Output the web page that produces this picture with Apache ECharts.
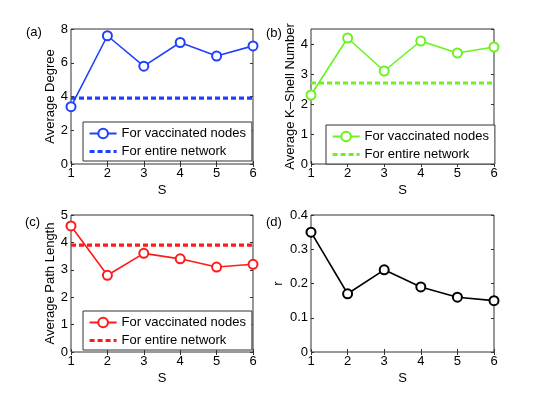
<!DOCTYPE html>
<html>
<head>
<meta charset="utf-8">
<script src="https://cdn.jsdelivr.net/npm/echarts@6/dist/echarts.min.js"></script>
<style>
  html, body { margin: 0; padding: 0; background: #fff; }
  #chart { width: 545px; height: 397px; }
</style>
</head>
<body>
<div id="chart"></div>
<script>
(function() {
  var S = [1, 2, 3, 4, 5, 6];
  var degreeVac = [3.4, 7.6, 5.8, 7.2, 6.4, 7.0];
  var degreeNet = 3.9;
  var kshellVac = [2.3, 4.2, 3.1, 4.1, 3.7, 3.9];
  var kshellNet = 2.7;
  var pathVac = [4.6, 2.8, 3.6, 3.4, 3.1, 3.2];
  var pathNet = 3.9;
  var rVals = [0.35, 0.17, 0.24, 0.19, 0.16, 0.15];

  var legendNames = {
    vac: 'For vaccinated nodes',
    net: 'For entire network'
  };

  var font = 'Liberation Sans, Arial, sans-serif';
  var ink = '#000';
  var frame = '#333';

  var grids = [
    { left: 71, top: 29, width: 182, height: 135 },
    { left: 311, top: 29, width: 183, height: 135 },
    { left: 71, top: 215, width: 182, height: 137 },
    { left: 311, top: 215, width: 183, height: 137 }
  ];

  var yCfg = [
    { name: 'Average Degree', max: 8, interval: 2, gap: 14 },
    { name: 'Average K\u2013Shell Number', max: 4.5, interval: 1, gap: 14 },
    { name: 'Average Path Length', max: 5, interval: 1, gap: 14 },
    { name: 'r', max: 0.4, interval: 0.1, gap: 26 }
  ];

  var xAxis = [], yAxis = [];
  grids.forEach(function(g, i) {
    g.show = true;
    g.borderColor = frame;
    g.borderWidth = 1;
    xAxis.push({
      type: 'value', gridIndex: i, min: 1, max: 6, interval: 1,
      name: 'S', nameLocation: 'middle', nameGap: 20,
      nameTextStyle: { color: ink, fontSize: 13, fontFamily: font },
      axisLine: { show: false },
      axisTick: { inside: true, length: 3, lineStyle: { color: frame } },
      axisLabel: { color: ink, fontSize: 13, fontFamily: font, margin: 3 },
      splitLine: { show: false }
    });
    xAxis.push({
      type: 'value', gridIndex: i, min: 1, max: 6, interval: 1, position: 'top',
      axisLine: { show: false },
      axisTick: { inside: true, length: 3, lineStyle: { color: frame } },
      axisLabel: { show: false },
      splitLine: { show: false }
    });
    var c = yCfg[i];
    yAxis.push({
      type: 'value', gridIndex: i, min: 0, max: c.max, interval: c.interval,
      name: c.name, nameLocation: 'middle', nameGap: c.gap,
      nameTextStyle: { color: ink, fontSize: 13, fontFamily: font },
      axisLine: { show: false },
      axisTick: { inside: true, length: 3, lineStyle: { color: frame } },
      axisLabel: { color: ink, fontSize: 13, fontFamily: font, margin: 3, showMaxLabel: c.max !== 4.5 },
      splitLine: { show: false }
    });
    yAxis.push({
      type: 'value', gridIndex: i, min: 0, max: c.max, interval: c.interval, position: 'right',
      axisLine: { show: false },
      axisTick: { inside: true, length: 3, lineStyle: { color: frame } },
      axisLabel: { show: false },
      splitLine: { show: false }
    });
  });

  function pairs(vals) {
    return S.map(function(s, k) { return [s, vals[k]]; });
  }

  function vacSeries(id, i, vals, color) {
    return {
      id: id, name: id + '-vac', type: 'line',
      xAxisIndex: i * 2, yAxisIndex: i * 2,
      data: pairs(vals),
      symbol: 'emptyCircle', symbolSize: 9,
      lineStyle: { color: color, width: 1.6 },
      itemStyle: { color: color, borderColor: color, borderWidth: 1.6 },
      z: 3
    };
  }

  function netSeries(id, i, value, color) {
    return {
      name: id + '-net', type: 'line',
      xAxisIndex: i * 2, yAxisIndex: i * 2,
      data: [[S[0], value], [S[S.length - 1], value]],
      symbol: 'none',
      lineStyle: { color: color, width: 3.2, type: [5, 3] },
      itemStyle: { color: color },
      z: 2
    };
  }

  var blue = '#2040ff', green = '#6cf21f', red = '#ff1a1a';

  var series = [
    vacSeries('a', 0, degreeVac, blue), netSeries('a', 0, degreeNet, blue),
    vacSeries('b', 1, kshellVac, green), netSeries('b', 1, kshellNet, green),
    vacSeries('c', 2, pathVac, red), netSeries('c', 2, pathNet, red),
    vacSeries('d', 3, rVals, '#000')
  ];

  function legendAt(id, left, top) {
    return {
      data: [
        { name: id + '-vac' },
        { name: id + '-net', itemStyle: { opacity: 0 }, lineStyle: { width: 3.2, type: [5, 3] } }
      ],
      orient: 'vertical', left: left, top: top,
      itemWidth: 27, itemHeight: 12, itemGap: 5,
      padding: [5, 6, 3, 5],
      borderColor: frame, borderWidth: 1, backgroundColor: '#fff',
      selectedMode: false,
      textStyle: { color: ink, fontSize: 13, fontFamily: font },
      formatter: function(name) { return legendNames[name.split('-')[1]]; }
    };
  }

  var labelPos = [['(a)', 26, 26], ['(b)', 266, 27], ['(c)', 25, 216], ['(d)', 266, 216]];
  var title = labelPos.map(function(p) {
    return { text: p[0], left: p[1], top: p[2], padding: 0,
      textStyle: { color: ink, fontSize: 13, fontWeight: 'normal', fontFamily: font } };
  });

  var chart = echarts.init(document.getElementById('chart'), null, { renderer: 'canvas' });
  chart.setOption({
    animation: false,
    backgroundColor: '#fff',
    title: title,
    grid: grids,
    xAxis: xAxis,
    yAxis: yAxis,
    legend: [legendAt('a', 83, 122), legendAt('b', 326, 125), legendAt('c', 83, 311)],
    series: series
  });
})();
</script>
</body>
</html>
